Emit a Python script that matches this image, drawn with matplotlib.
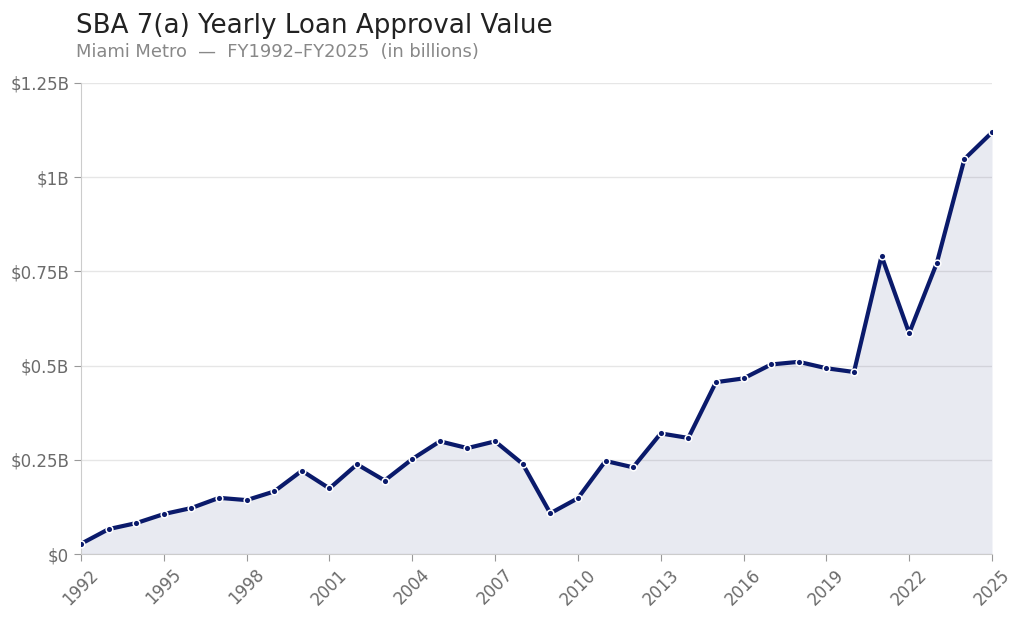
import matplotlib
matplotlib.use("Agg")
import matplotlib.pyplot as plt

years = list(range(1992, 2026))
values = [0.027, 0.066, 0.082, 0.106, 0.122, 0.149, 0.143, 0.166, 0.221, 0.174,
          0.238, 0.195, 0.252, 0.299, 0.281, 0.299, 0.239, 0.108, 0.148, 0.247,
          0.230, 0.320, 0.308, 0.456, 0.466, 0.503, 0.510, 0.493, 0.483, 0.791,
          0.586, 0.772, 1.048, 1.119]
xticks = list(range(1992, 2026, 3))
yticks = [0, 0.25, 0.5, 0.75, 1.0, 1.25]
ytick_labels = ["$0", "$0.25B", "$0.5B", "$0.75B", "$1B", "$1.25B"]

navy = "#0a1a6b"
fig = plt.figure(figsize=(10.24, 6.19), dpi=100)
ax = fig.add_axes([81/1024, 1-554/619, (992-81)/1024, (554-83)/619])

ax.fill_between(years, values, 0, color=navy, alpha=0.09, linewidth=0)
ax.plot(years, values, color=navy, linewidth=3, marker="o", markersize=4.8,
        markerfacecolor=navy, markeredgecolor="white", markeredgewidth=1.1, zorder=3)

ax.set_xlim(1992, 2025)
ax.set_ylim(0, 1.25)
ax.set_xticks(xticks)
ax.set_xticklabels([str(x) for x in xticks], rotation=45, ha="center")
ax.set_yticks(yticks)
ax.set_yticklabels(ytick_labels)
ax.tick_params(colors="#6b6b6b", labelsize=12, length=5, color="#999999")
ax.grid(axis="y", color="#e6e6e6", linewidth=1)
ax.set_axisbelow(True)
for s in ["top", "right"]:
    ax.spines[s].set_visible(False)
for s in ["left", "bottom"]:
    ax.spines[s].set_color("#cccccc")

fig.text(76/1024, 1-33/619, "SBA 7(a) Yearly Loan Approval Value", fontsize=18.8,
         color="#222222", ha="left", va="baseline")
fig.text(76/1024, 1-57/619, "Miami Metro  —  FY1992–FY2025  (in billions)", fontsize=12.9,
         color="#888888", ha="left", va="baseline")

fig.savefig("out.png", dpi=100)
